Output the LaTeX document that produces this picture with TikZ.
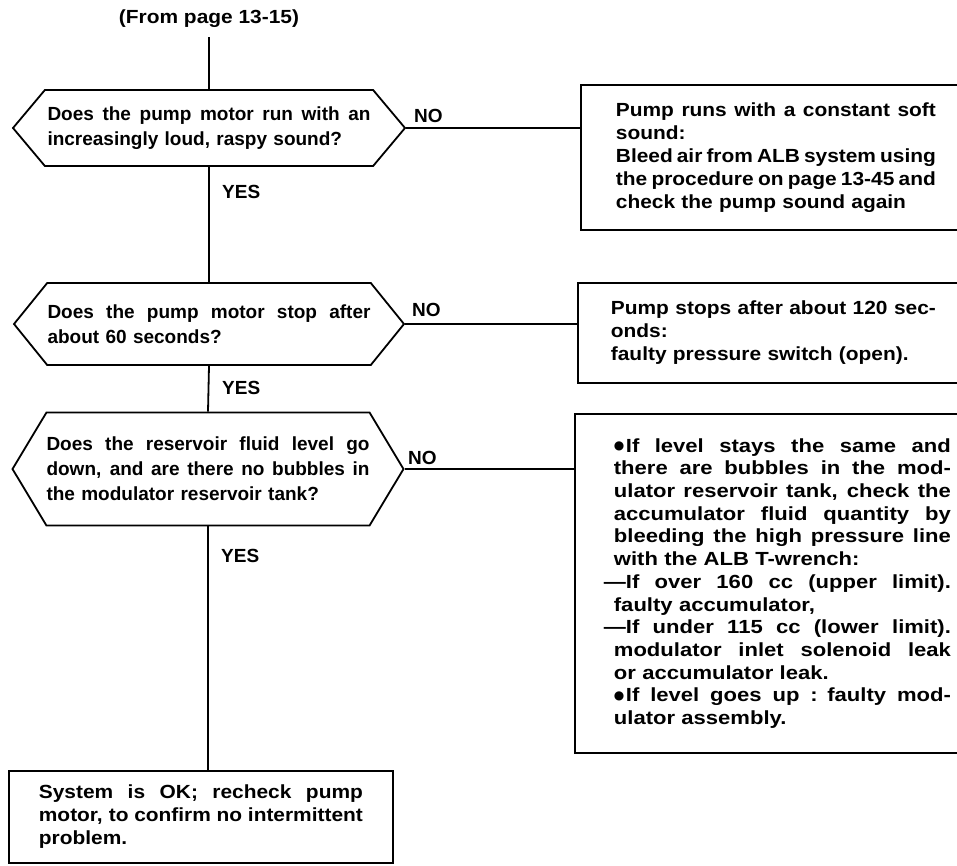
\documentclass[tikz,border=0pt]{standalone}
\usepackage{fontspec}
\setmainfont{Liberation Sans}
\newfontfamily\ansfont{Liberation Sans}[FakeStretch=1.1]
\newfontfamily\widefont{Liberation Sans}[FakeStretch=1.16]
\newfontfamily\symfont{DejaVu Sans}
\usetikzlibrary{shapes.symbols}
% width of a justified line in the current node
\def\jlwidth{300pt}
% one fully justified line of a text block
\newcommand{\jl}[1]{\noindent\hbox to \jlwidth{\spaceskip=0.24em plus 1fil minus 0.1em\relax #1}}
% list bullet
\newcommand{\bul}{\raisebox{2.5pt}{\symfont\fontsize{12}{12}\selectfont ●}\hspace{1.5pt}}
\begin{document}
\begin{tikzpicture}[x=1pt,y=-1pt,
  every node/.style={font=\bfseries\fontsize{19}{23}\selectfont},
  jw/.code={\def\jlwidth{#1}},
  link/.style={line width=1.8pt},
  hexq/.style={signal, signal to=west and east, draw, line width=1.8pt,
    inner sep=0pt, text width=323pt, jw=323pt, align=left,
    font=\bfseries\fontsize{19}{25}\selectfont},
  answer/.style={draw, line width=1.8pt, rectangle, anchor=north west,
    inner ysep=0pt, align=left, font=\ansfont\bfseries\fontsize{19}{23}\selectfont},
  lbl/.style={inner sep=0pt, anchor=west}
]
\useasboundingbox (0,0) rectangle (957,865);

% entry point
\node[inner xsep=0pt, inner ysep=9pt, font=\ansfont\bfseries\fontsize{19}{23}\selectfont]
  (head) at (209,19) {(From page 13-15)};

% questions
\node[hexq, minimum width=392pt, minimum height=76pt, signal pointer angle=100]
  (q1) at (209,128)
  {\jl{Does the pump motor run with an}\\ increasingly loud, raspy sound?};
\node[hexq, minimum width=390pt, minimum height=82pt, signal pointer angle=102]
  (q2) at (209,324)
  {\jl{Does the pump motor stop after}\\ about 60 seconds?};
\node[hexq, minimum width=391pt, minimum height=113pt, signal pointer angle=118]
  (q3) at (208,469)
  {\jl{Does the reservoir fluid level go}\\
   \jl{down, and are there no bubbles in}\\
   the modulator reservoir tank?};

% answers for NO (open towards the right edge)
\node[answer, minimum height=145pt, text width=320pt, jw=320pt, inner xsep=35pt]
  (b1) at (580,84)
  {\jl{Pump runs with a constant soft}\\
   sound:\\
   \jl{Bleed air from ALB system using}\\
   \jl{the procedure on page 13-45 and}\\
   check the pump sound again};
\node[answer, minimum height=100pt, text width=325pt, jw=325pt, inner xsep=33pt]
  (b2) at (577,282)
  {\jl{Pump stops after about 120 sec-}\\
   onds:\\
   faulty pressure switch (open).};
\node[answer, minimum height=339pt, text width=337pt, jw=337pt, inner xsep=39pt,
      font=\widefont\bfseries\fontsize{19}{22.7}\selectfont]
  (b3) at (574,413)
  {\jl{\bul If level stays the same and}\\
   \jl{there are bubbles in the mod-}\\
   \jl{ulator reservoir tank, check the}\\
   \jl{accumulator fluid quantity by}\\
   \jl{bleeding the high pressure line}\\
   with the ALB T-wrench:\\
   \jl{\hspace{-10pt}—If over 160 cc (upper limit).}\\
   faulty accumulator,\\
   \jl{\hspace{-10pt}—If under 115 cc (lower limit).}\\
   \jl{modulator inlet solenoid leak}\\
   or accumulator leak.\\
   \jl{\bul If level goes up : faulty mod-}\\
   ulator assembly.};

% final result
\node[answer, minimum height=92pt, text width=324pt, jw=324pt, inner xsep=30pt]
  (ok) at (8,770)
  {\jl{System is OK; recheck pump}\\
   \jl{motor, to confirm no intermittent}\\
   problem.};

% trunk
\draw[link] (head.south) -- (q1.north);
\draw[link] (q1.south) -- (q2.north);
\draw[link] (q2.south) -- (q3.north);
\draw[link] (q3.south) -- (q3.south |- ok.north);

% NO branches
\draw[link] (q1.east) -- (q1.east -| b1.west);
\draw[link] (q2.east) -- (q2.east -| b2.west);
\draw[link] (q3.east) -- (q3.east -| b3.west);

% branch labels
\node[lbl] (no1) at (414,116) {NO};
\node[lbl] (no2) at (412,310) {NO};
\node[lbl] (no3) at (408,458) {NO};
\node[lbl] (yes1) at (222,192) {YES};
\node[lbl] (yes2) at (222,388) {YES};
\node[lbl] (yes3) at (221,556) {YES};
\end{tikzpicture}
\end{document}
